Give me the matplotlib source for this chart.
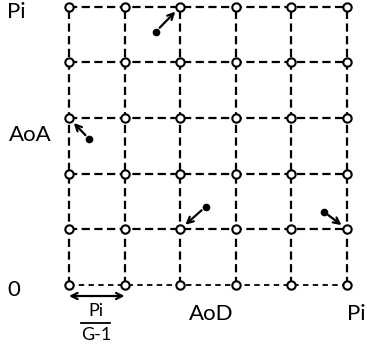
import matplotlib
matplotlib.use("Agg")
import matplotlib.pyplot as plt
import numpy as np

# Data
G = 6  # grid points per dimension
dots_x = [1.56, 0.365, 2.46, 4.58]
dots_y = [4.55, 2.62, 1.41, 1.32]
target_x = [2, 0, 2, 5]
target_y = [5, 3, 1, 1]
axis_labels = {"y_top": "Pi", "y_mid": "AoA", "origin": "0", "x_mid": "AoD", "x_right": "Pi"}

W, H = 367, 351
fig = plt.figure(figsize=(W / 100, H / 100), dpi=100)
ax = fig.add_axes([0, 0, 1, 1])
# pixel mapping: node 0 at x=69px, node 5 at x=347px; row 0 at y=285px, row 5 at y=6.7px
sx = (347 - 69) / (G - 1)
sy = (285 - 6.7) / (G - 1)
ax.set_xlim(-69 / sx, (W - 69) / sx)
ax.set_ylim(-(H - 285) / sy, 5 + 6.7 / sy)
ax.axis("off")

def px(x, y):
    return ((x - 69) / sx, (285 - y) / sy)

font = "Lato"
lw = 1.6
dash = (0, (3.7, 2.0))
idx = np.arange(G)
for k in idx:
    ax.plot([k, k], [0, G - 1], color="black", lw=lw, linestyle=dash, zorder=1)
    if k == 0:
        ax.plot([0, G - 1], [k, k], color="black", lw=1.3, linestyle=(0, (3.0, 2.4)), zorder=1)
    else:
        ax.plot([0, G - 1], [k, k], color="black", lw=lw, linestyle=dash, zorder=1)
gx, gy = np.meshgrid(idx, idx)
ax.plot(gx.ravel(), gy.ravel(), "o", ms=6.0, mfc="white", mec="black", mew=1.5,
        linestyle="none", zorder=3)

ax.plot(dots_x, dots_y, "o", color="black", ms=4.5, linestyle="none", zorder=4)
for x0, y0, x1, y1 in zip(dots_x, dots_y, target_x, target_y):
    ax.annotate("", xy=(x1, y1), xytext=(x0, y0),
                arrowprops=dict(arrowstyle="->", color="black", lw=1.6,
                                shrinkA=4, shrinkB=5, mutation_scale=11), zorder=4)

fs = 16
ax.text(*px(7, 12), axis_labels["y_top"], fontsize=fs, family=font, ha="left", va="center")
ax.text(*px(9, 135), axis_labels["y_mid"], fontsize=fs, family=font, ha="left", va="center")
ax.text(*px(7, 290), axis_labels["origin"], fontsize=fs, family=font, ha="left", va="center")
ax.text(*px(211, 314), axis_labels["x_mid"], fontsize=fs, family=font, ha="center", va="center")
ax.text(*px(347, 314), axis_labels["x_right"], fontsize=fs, family=font, ha="left", va="center")

# spacing indicator
ax.annotate("", xy=(1, px(0, 296)[1]), xytext=(0, px(0, 296)[1]),
            arrowprops=dict(arrowstyle="<->", color="black", lw=1.6,
                            shrinkA=0, shrinkB=0, mutation_scale=11))
ax.text(*px(96, 311), "Pi", fontsize=13, family=font, ha="center", va="center")
ax.plot([px(81, 0)[0], px(110, 0)[0]], [px(0, 323)[1]] * 2, color="black", lw=1.3)
ax.text(*px(96, 335), "G-1", fontsize=13, family=font, ha="center", va="center")

fig.savefig("out.png", dpi=100)
